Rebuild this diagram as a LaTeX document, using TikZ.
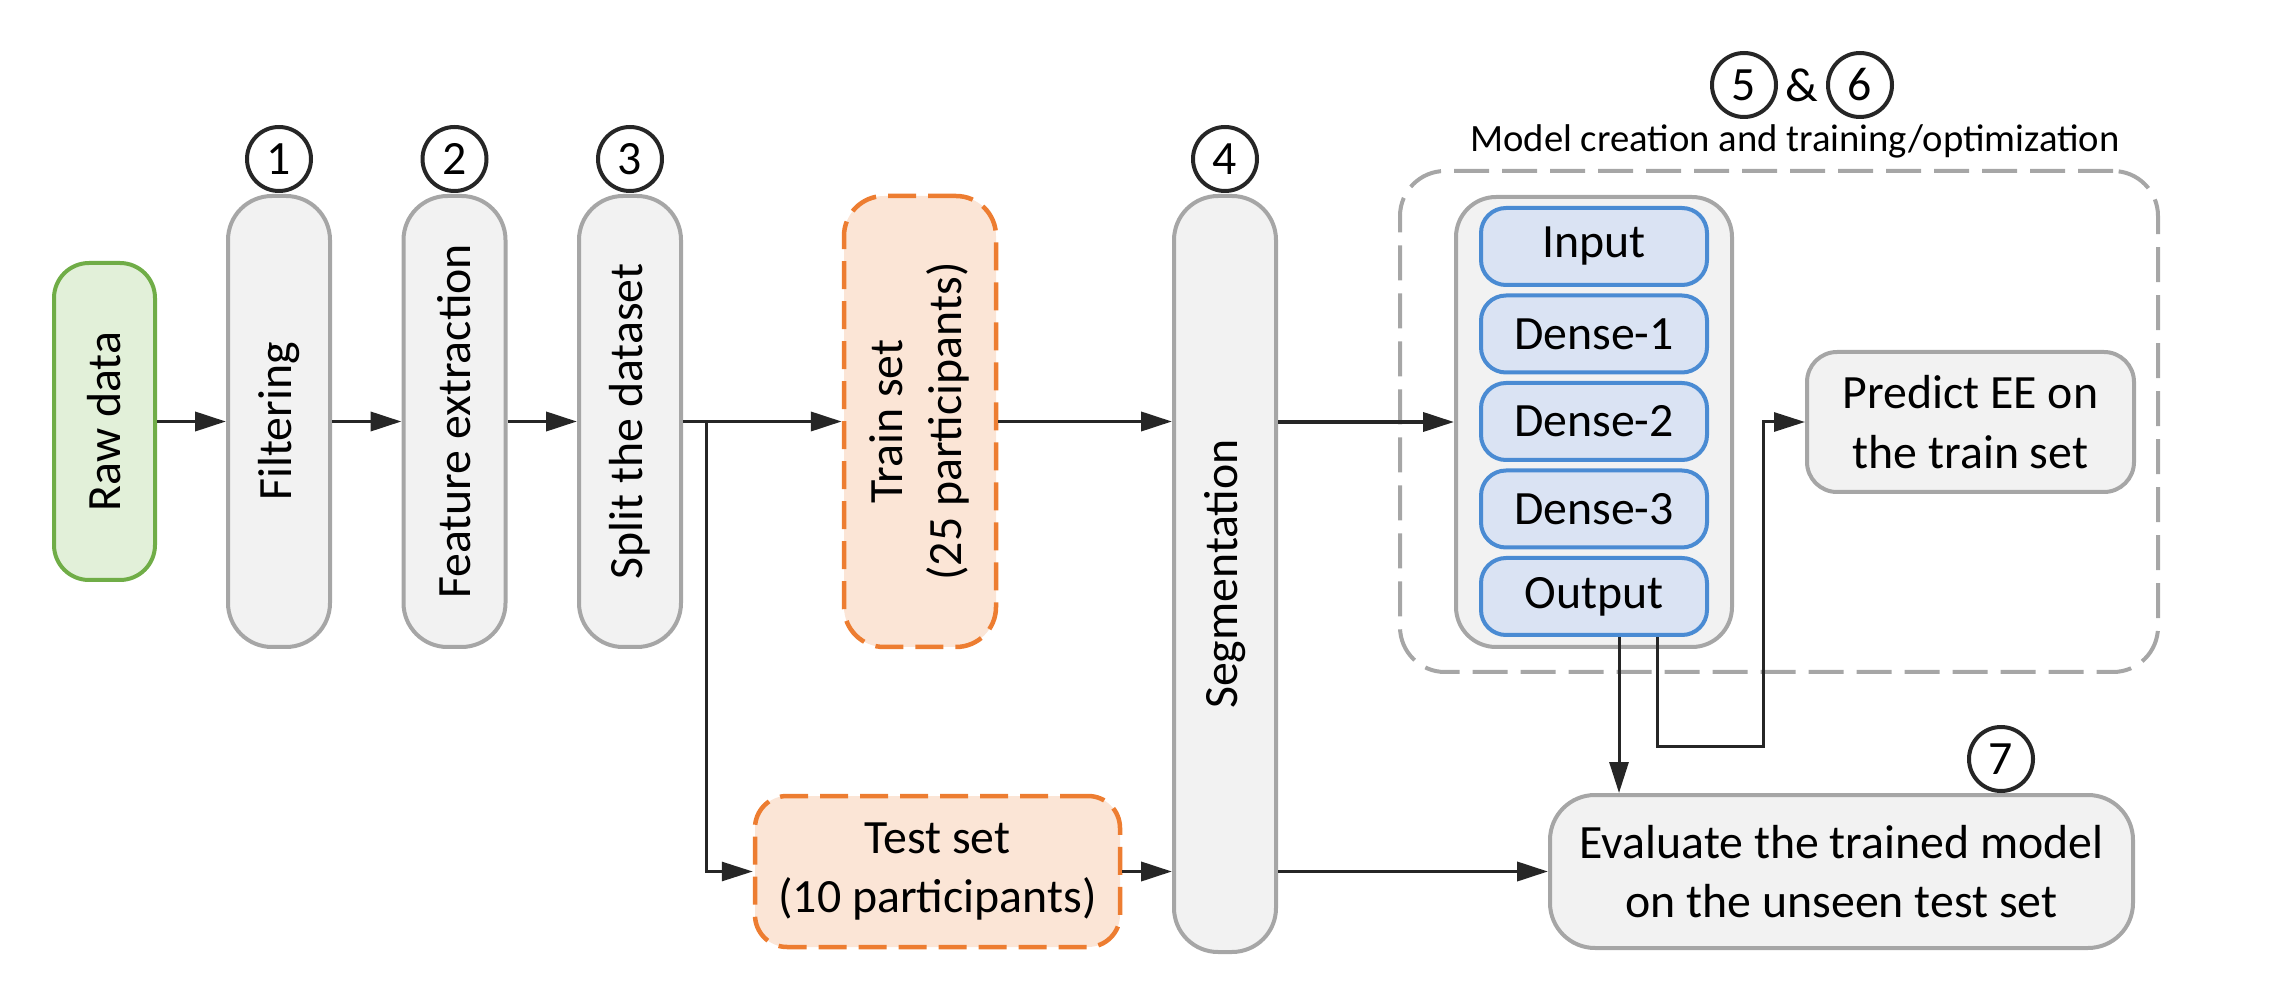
\documentclass[tikz,border=0pt]{standalone}
\usepackage{fontspec}
\usepackage{graphicx}
\setmainfont{Carlito}
\usetikzlibrary{arrows.meta}
\definecolor{grayfill}{HTML}{F2F2F2}
\definecolor{grayline}{HTML}{A6A6A6}
\definecolor{greenfill}{HTML}{E2F0D9}
\definecolor{greenline}{HTML}{70AD47}
\definecolor{orfill}{HTML}{FBE5D6}
\definecolor{orline}{HTML}{ED7D31}
\definecolor{bluefill}{HTML}{DAE3F3}
\definecolor{blueline}{HTML}{4A8BD3}
\definecolor{dark}{HTML}{262626}
\begin{document}
\begin{tikzpicture}[x=0.1mm,y=-0.1mm,
  every node/.style={font=\fontsize{13.6pt}{17pt}\selectfont, inner sep=0pt, align=center, text=black},
  graybox/.style={draw=grayline, fill=grayfill, line width=0.4mm, rounded corners=4.4mm},
  greenbox/.style={draw=greenline, fill=greenfill, line width=0.4mm, rounded corners=3.5mm},
  orbox/.style={draw=orline, fill=orfill, line width=0.45mm, dash pattern=on 2.8mm off 1.2mm},
  bluebox/.style={draw=blueline, fill=bluefill, line width=0.4mm, rounded corners=2.5mm, minimum width=22.6mm, minimum height=7.7mm},
  outerbox/.style={draw=grayline, line width=0.4mm, dash pattern=on 3.5mm off 1.3mm, rounded corners=4.5mm},
  num/.style={circle, draw=dark, line width=0.4mm, minimum size=6.4mm},
  arr/.style={draw=dark, line width=0.38mm, -{Triangle[length=3.1mm,width=1.9mm]}},
  arrthin/.style={draw=dark, line width=0.3mm, -{Triangle[length=3.1mm,width=1.9mm]}},
  wire/.style={draw=dark, line width=0.3mm}
]
\useasboundingbox (0,0) rectangle (2278,1007);

% left pipeline
\node[greenbox, minimum width=10.1mm, minimum height=31.7mm] (raw) at (104.5,421.5) {\rotatebox{90}{Raw data}};
\node[graybox, minimum width=10.2mm, minimum height=45.1mm] (filt) at (279,421.5) {\rotatebox{90}{Filtering}};
\node[graybox, minimum width=10.2mm, minimum height=45.1mm] (feat) at (454.5,421.5) {\rotatebox{90}{Feature extraction}};
\node[graybox, minimum width=10.2mm, minimum height=45.1mm] (split) at (630,421.5) {\rotatebox{90}{Split the dataset}};
\node[num] (n1) at (279,159) {1};
\node[num] (n2) at (454.5,159) {2};
\node[num] (n3) at (630,159) {3};

% data sets
\node[orbox, rounded corners=4mm, minimum width=15.2mm, minimum height=45.1mm] (train) at (920,421.5)
  {\rotatebox{90}{\begin{tabular}{@{}c@{}}Train set\\(25 participants)\end{tabular}}};
\node[orbox, rounded corners=3.2mm, minimum width=36.5mm, minimum height=15.1mm] (test) at (937.5,871.5)
  {Test set\\(10 participants)};

% segmentation
\node[graybox, minimum width=10.2mm, minimum height=75.6mm] (seg) at (1225,574) {\rotatebox{90}{Segmentation}};
\node[num] (n4) at (1225,159) {4};

% model group
\node[outerbox, minimum width=75.8mm, minimum height=50.1mm] (grp) at (1779,421.5) {};
\node[num] (n5) at (1744,85) {5};
\node (amp) at (1802,85) {\&};
\node[num] (n6) at (1860,85) {6};
\node[font=\fontsize{11pt}{13pt}\selectfont, anchor=base] (lbl) at (1795,152) {Model creation and training/optimization};
\node[graybox, rounded corners=4mm, minimum width=27.6mm, minimum height=45mm] (model) at (1594,422) {};
\node[bluebox] (inp) at (1594,246.5) {Input};
\node[bluebox] (d1) at (1594,334) {Dense-1};
\node[bluebox] (d2) at (1594,421.5) {Dense-2};
\node[bluebox] (d3) at (1594,509) {Dense-3};
\node[bluebox] (out) at (1594,596.5) {Output};
\node[graybox, rounded corners=3mm, minimum width=32.7mm, minimum height=14mm] (pred) at (1970.5,422) {Predict EE on\\the train set};

% evaluation
\node[graybox, rounded corners=4.5mm, minimum width=58.3mm, minimum height=15.3mm] (eval) at (1841.5,871.5)
  {Evaluate the trained model\\on the unseen test set};
\node[num] (n7) at (2001,759) {7};

% connectors
\draw[arr] (raw.east) -- (filt.west);
\draw[arr] (filt.east) -- (feat.west);
\draw[arr] (feat.east) -- (split.west);
\draw[arr] (split.east) -- (train.west);
\coordinate (br) at (706,421.5);
\draw[arrthin] (br) |- (test.west);
\draw[arr] (train.east) -- (train.east -| seg.west);
\draw[arr] (test.east) -- (test.east -| seg.west);
\draw[arr] (seg.east |- model.west) -- (model.west);
\draw[arr] (seg.east |- eval.west) -- (eval.west);
\draw[arrthin] ([xshift=2.5mm]out.south) -- ([xshift=2.5mm]out.south |- eval.north);
\coordinate (turn) at (1763,746);
\draw[arrthin] ([xshift=6.3mm]out.south) |- (turn) |- (pred.west);
\end{tikzpicture}
\end{document}
